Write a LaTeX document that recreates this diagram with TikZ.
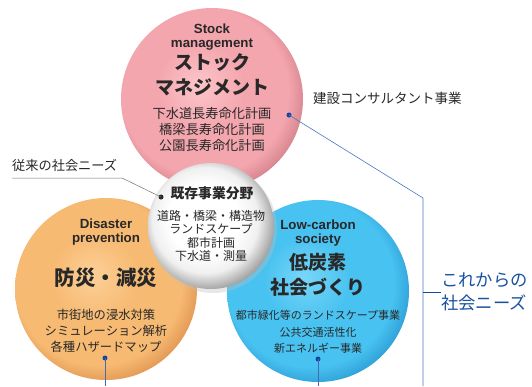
\documentclass[tikz,border=0pt]{standalone}
\usepackage{fontspec}
\setmainfont{Liberation Sans}
\newfontfamily\jp{Noto Sans CJK JP}
\definecolor{txt}{RGB}{40,40,40}
\definecolor{pkL}{RGB}{252,198,202}
\definecolor{pkB}{RGB}{244,166,174}
\definecolor{pkD}{RGB}{206,124,134}
\definecolor{orL}{RGB}{252,208,152}
\definecolor{orB}{RGB}{247,186,114}
\definecolor{orD}{RGB}{220,144,78}
\definecolor{blL}{RGB}{120,214,248}
\definecolor{blB}{RGB}{72,194,240}
\definecolor{blD}{RGB}{40,152,210}
\definecolor{whL}{RGB}{255,255,255}
\definecolor{whB}{RGB}{240,240,240}
\definecolor{whD}{RGB}{140,140,140}
\definecolor{lnblue}{RGB}{70,120,195}
\definecolor{dkblue}{RGB}{20,70,160}
\definecolor{nblue}{RGB}{25,80,160}
\pgfdeclareradialshading{sphpk}{\pgfpoint{-4bp}{4bp}}{color(0bp)=(pkL);color(12bp)=(pkB);color(23bp)=(pkB);color(29bp)=(pkD);color(50bp)=(pkD)}
\pgfdeclareradialshading{sphor}{\pgfpoint{-4bp}{4bp}}{color(0bp)=(orL);color(12bp)=(orB);color(23bp)=(orB);color(29bp)=(orD);color(50bp)=(orD)}
\pgfdeclareradialshading{sphbl}{\pgfpoint{-4bp}{4bp}}{color(0bp)=(blL);color(12bp)=(blB);color(23bp)=(blB);color(29bp)=(blD);color(50bp)=(blD)}
\pgfdeclareradialshading{sphwh}{\pgfpoint{-4bp}{4bp}}{color(0bp)=(whL);color(14bp)=(whL);color(21bp)=(whB);color(29bp)=(whD);color(50bp)=(whD)}
\tikzset{
  entitle/.style={font=\fontsize{13.3}{13.5}\selectfont\bfseries, text=txt, align=center, inner sep=0pt},
  jptitle/.style={font=\jp\fontsize{19}{25}\selectfont\bfseries, text=txt, align=center, inner sep=0pt},
  jplist/.style={font=\jp\fontsize{13.2}{16}\selectfont, text=txt, align=center, inner sep=0pt},
  dotmark/.style={circle, fill=dkblue, inner sep=0pt, minimum size=5pt},
  bluelink/.style={draw=lnblue, line width=0.6pt},
}
\begin{document}
\begin{tikzpicture}[x=1pt,y=-1pt]
\useasboundingbox (0,0) rectangle (532,386);
\fill[white] (0,0) rectangle (532,386);
% spheres
\shade[shading=sphpk] (212,99) circle[radius=91pt];
\shade[shading=sphor] (106,289) circle[radius=91pt];
\shade[shading=sphbl] (318,291) circle[radius=91pt];
\fill[black!25, opacity=0.35] (213,229) circle[radius=64pt];
\shade[shading=sphwh] (211,226) circle[radius=63pt];
% pink texts
\node[entitle] (pkE) at (212,37) {Stock\\management};
\node[jptitle] (pkJ) at (212,75) {ストック\\マネジメント};
\node[jplist] (pkL) at (212,129) {下水道長寿命化計画\\橋梁長寿命化計画\\公園長寿命化計画};
% white texts
\node[font=\jp\fontsize{13.8}{16}\selectfont\bfseries, text=txt, inner sep=0pt] (whT) at (212,193) {既存事業分野};
\node[font=\jp\fontsize{12}{13.2}\selectfont, text=txt, align=center, inner sep=0pt] (whL) at (211,236) {道路・橋梁・構造物\\ランドスケープ\\都市計画\\下水道・測量};
% orange texts
\node[entitle] (orE) at (106,232) {Disaster\\prevention};
\node[font=\jp\fontsize{20.5}{25}\selectfont\bfseries, text=txt, inner sep=0pt] (orJ) at (106,278) {防災・減災};
\node[font=\jp\fontsize{12.3}{16}\selectfont, text=txt, align=center, inner sep=0pt] (orL) at (106,331) {市街地の浸水対策\\シミュレーション解析\\各種ハザードマップ};
% blue texts
\node[entitle] (blE) at (318,233) {Low-carbon\\society};
\node[jptitle] (blJ) at (318,275) {低炭素\\社会づくり};
\node[font=\jp\fontsize{11}{16.2}\selectfont, text=txt, align=center, inner sep=0pt] (blL) at (318,332) {都市緑化等のランドスケープ事業\\公共交通活性化\\新エネルギー事業};
% outside labels
\node[font=\jp\fontsize{13.2}{16}\selectfont, text=txt, anchor=west, inner sep=0pt] (conv) at (12,165) {従来の社会ニーズ};
\node[font=\jp\fontsize{13.5}{16}\selectfont, text=txt, anchor=west, inner sep=0pt] (cons) at (313,98) {建設コンサルタント事業};
\node[font=\jp\fontsize{17.3}{23}\selectfont, text=nblue, align=left, anchor=west, inner sep=0pt] (future) at (441,292) {これからの\\社会ニーズ};
% dots
\node[circle, fill=txt, inner sep=0pt, minimum size=5pt] (dW) at (161,197) {};
\node[dotmark] (dP) at (289,115) {};
\node[dotmark] (dO) at (105,358) {};
\node[dotmark] (dB) at (318,359) {};
\coordinate (cW) at (122,178);
\coordinate (cL) at (12,178);
\coordinate (bend) at (423,198);
\coordinate (bot) at (423,386);
\coordinate (tick) at (423,292);
\coordinate (oBot) at (105,386);
\coordinate (bBot) at (318,386);
% connectors
\draw[black!55, line width=0.5pt] (cL) -- (cW) -- (dW.center);
\draw[bluelink] (dP.center) -- (bend) -- (bot);
\draw[draw=dkblue, line width=0.8pt] (tick) -- (future.west);
\draw[bluelink, draw=dkblue!80] (dO.center) -- (oBot);
\draw[bluelink, draw=dkblue!80] (dB.center) -- (bBot);
\end{tikzpicture}
\end{document}
